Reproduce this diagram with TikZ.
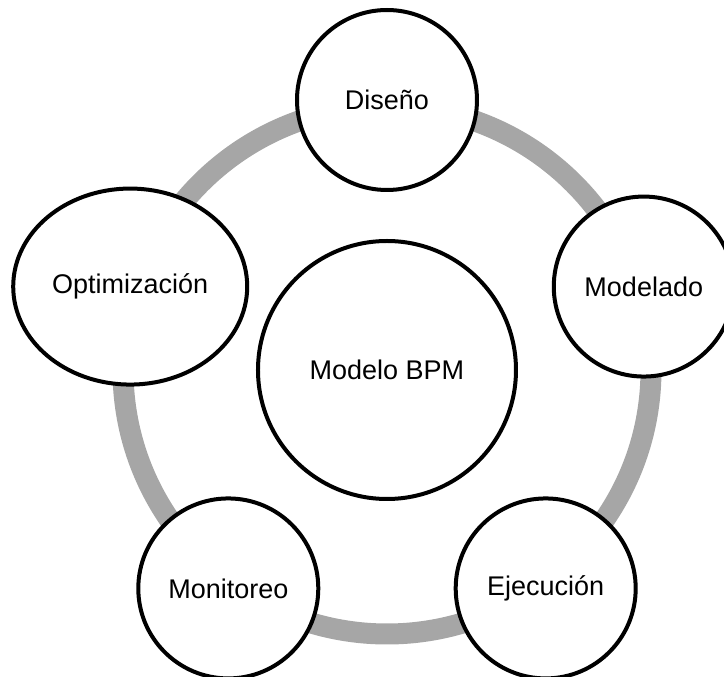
\documentclass[tikz,border=0pt]{standalone}
\usepackage{fontspec}
\setmainfont{Liberation Sans}
\usepackage{xcolor}
\usepackage{tikz}
\usetikzlibrary{shapes.geometric}
\definecolor{ringgray}{HTML}{A6A6A6}

\tikzset{
  phase/.style={circle, draw=black, line width=4pt, fill=white,
                minimum size=180pt, inner sep=0pt,
                font=\fontsize{27}{31}\selectfont},
}

\begin{document}
\begin{tikzpicture}
    \useasboundingbox (-387pt,-307pt) rectangle (337pt,370pt);
    % anillo del ciclo
    \draw[ringgray, line width=21pt] (0,0) circle (264pt);
    \node[phase, minimum size=258pt] (bpm) at (0,0) {Modelo BPM};
    \node[phase] (diseno) at (90:270pt) {Diseño};
    \node[phase] (modelado) at (18:270pt) {Modelado};
    \node[phase] (ejecucion) at (-54:270pt) {Ejecución};
    \node[phase] (monitoreo) at (-126:270pt) {Monitoreo};
    \node[phase, ellipse, minimum width=234pt, minimum height=196pt]
      (optimizacion) at (162:270pt) {Optimización};
  \end{tikzpicture}
\end{document}
